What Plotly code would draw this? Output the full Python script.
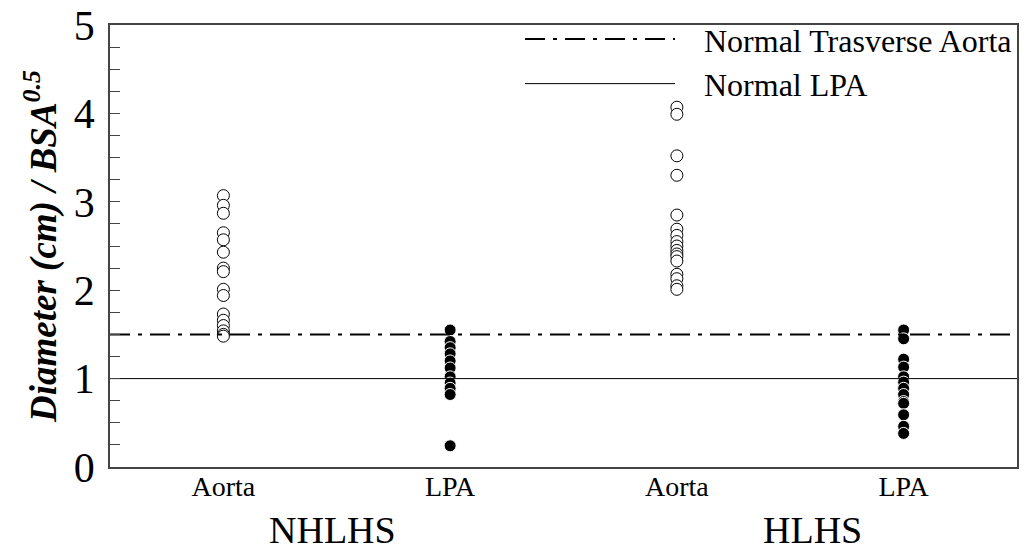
import plotly.graph_objects as go

# ---- data ----
categories = ["Aorta", "LPA", "Aorta", "LPA"]
groups = ["NHLHS", "HLHS"]

nhlhs_aorta = [3.07, 2.96, 2.87, 2.65, 2.57, 2.43, 2.25, 2.21, 2.01, 1.94,
               1.73, 1.66, 1.60, 1.54, 1.50, 1.48]
nhlhs_lpa = [1.55, 1.42, 1.35, 1.28, 1.20, 1.12, 1.02, 0.95, 0.89, 0.82, 0.24]
hlhs_aorta = [4.07, 3.99, 3.52, 3.30, 2.85, 2.69, 2.62, 2.55, 2.50, 2.45,
              2.41, 2.38, 2.33, 2.18, 2.13, 2.05, 2.01]
hlhs_lpa = [1.55, 1.45, 1.22, 1.13, 1.02, 0.96, 0.89, 0.82, 0.74, 0.72,
            0.59, 0.46, 0.38]

normal_aorta = 1.5
normal_lpa = 1.0

y_ticks = [0, 1, 2, 3, 4, 5]

serif = "Liberation Serif, Times New Roman, serif"

fig = go.Figure()

series = [nhlhs_aorta, nhlhs_lpa, hlhs_aorta, hlhs_lpa]
for i, vals in enumerate(series):
    is_aorta = categories[i] == "Aorta"
    fig.add_trace(go.Scatter(
        x=[i + 0.5] * len(vals), y=vals, mode="markers", showlegend=False,
        marker=dict(size=12,
                    color="white" if is_aorta else "black",
                    line=dict(color="black" if is_aorta else "white", width=1)),
    ))

fig.add_trace(go.Scatter(
    x=[0, len(categories)], y=[normal_aorta, normal_aorta], mode="lines",
    name="&nbsp;&nbsp;&nbsp;Normal Trasverse Aorta",
    line=dict(color="black", width=2, dash="20px,8px,4px,8px"),
))
fig.add_trace(go.Scatter(
    x=[0, len(categories)], y=[normal_lpa, normal_lpa], mode="lines",
    name="&nbsp;&nbsp;&nbsp;Normal LPA",
    line=dict(color="black", width=1),
))

for j, g in enumerate(groups):
    fig.add_annotation(
        x=[0.98, 3.1][j], y=-0.143, xref="x", yref="paper", text=g,
        showarrow=False, yanchor="middle",
        font=dict(family=serif, size=38, color="black"),
    )

fig.update_layout(
    width=1024, height=555,
    margin=dict(l=110, r=7, t=25, b=88),
    paper_bgcolor="white", plot_bgcolor="white",
    font=dict(family=serif, color="black"),
    legend=dict(x=1.0, y=1.03, xanchor="right", yanchor="top",
                bgcolor="rgba(0,0,0,0)", borderwidth=0,
                font=dict(family=serif, size=32, color="black"),
                itemwidth=150, tracegroupgap=0),
    xaxis=dict(range=[0, len(categories)], automargin=False,
               tickvals=[i + 0.5 for i in range(len(categories))],
               ticktext=categories, ticks="",
               ticklabelstandoff=-6,
               tickfont=dict(family=serif, size=28, color="black"),
               showgrid=False, zeroline=False,
               showline=True, mirror=True, linecolor="#444", linewidth=1.5),
    yaxis=dict(range=[0, 5], tickvals=y_ticks, automargin=False,
               ticks="inside", ticklen=10, tickcolor="#444", tickwidth=1,
               ticklabelstandoff=5,
               minor=dict(dtick=0.25, ticks="inside", ticklen=10,
                          tickcolor="#444", tickwidth=1, showgrid=False),
               tickfont=dict(family=serif, size=42, color="black"),
               showgrid=False, zeroline=False,
               showline=True, mirror=True, linecolor="#444", linewidth=1.5,
               title=dict(text="<b><i>Diameter (cm) / BSA<sup>0.5</sup></i></b>",
                          font=dict(family=serif, size=37, color="black"),
                          standoff=6)),
)

fig.write_html("out.html",
               config={"displayModeBar": False},
               post_script="document.body.style.margin='0';"
                           "document.body.style.padding='0';")
